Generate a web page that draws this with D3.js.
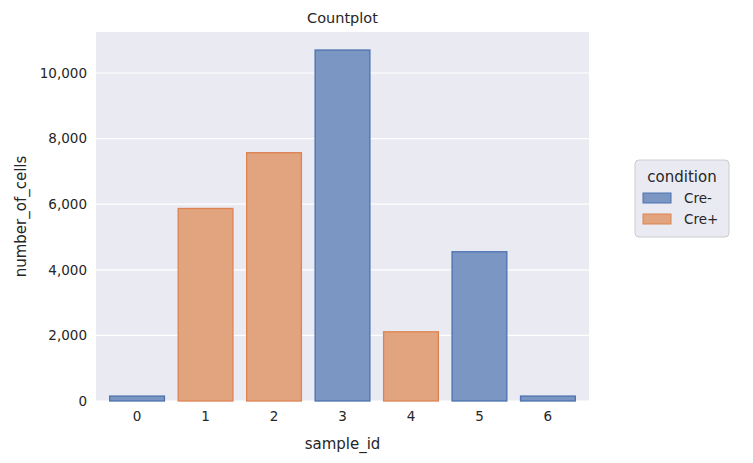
<!DOCTYPE html>
<html><head><meta charset="utf-8">
<script src="https://cdn.jsdelivr.net/npm/d3@7"></script>
<style>body{margin:0;background:#fff;font-family:"DejaVu Sans",sans-serif;}</style>
</head><body><svg id="chart" width="753" height="463"></svg>
<script>
const sampleIds = ["0", "1", "2", "3", "4", "5", "6"];
const cellCounts = [150, 5870, 7570, 10700, 2110, 4550, 150];
const conditions = ["Cre-", "Cre+", "Cre+", "Cre-", "Cre+", "Cre-", "Cre-"];
const yTicks = [0, 2000, 4000, 6000, 8000, 10000];
const legendItems = ["Cre-", "Cre+"];

const fillColor = { "Cre-": "#7b96c3", "Cre+": "#e2a37f" };
const edgeColor = { "Cre-": "#4c72b0", "Cre+": "#dd8452" };

const svg = d3.select("#chart");
const m = { left: 96, right: 589, top: 32, bottom: 401 };

const x = d3.scaleBand().domain(sampleIds).range([m.left, m.right]).padding(0.2);
const y = d3.scaleLinear().domain([0, 11250]).range([m.bottom, m.top]);

svg.append("rect").attr("x", m.left).attr("y", m.top)
    .attr("width", m.right - m.left).attr("height", m.bottom - m.top).attr("fill", "#eaeaf2");

// gridlines
svg.selectAll(".grid").data(yTicks).enter().append("line")
    .attr("x1", m.left).attr("x2", m.right)
    .attr("y1", d => y(d)).attr("y2", d => y(d))
    .attr("stroke", "#fff").attr("stroke-width", 1.2);

const data = sampleIds.map((s, i) => ({ s, v: cellCounts[i], c: conditions[i] }));
svg.selectAll(".bar").data(data).enter().append("rect")
    .attr("x", d => x(d.s)).attr("width", x.bandwidth())
    .attr("y", d => y(d.v)).attr("height", d => y(0) - y(d.v))
    .attr("fill", d => fillColor[d.c]).attr("stroke", d => edgeColor[d.c]).attr("stroke-width", 1.3);

const yAxis = svg.append("g").attr("transform", `translate(${m.left},0)`)
    .call(d3.axisLeft(y).tickValues(yTicks).tickSize(0).tickPadding(9));
const xAxis = svg.append("g").attr("transform", `translate(0,${m.bottom})`)
    .call(d3.axisBottom(x).tickSize(0).tickPadding(10));
[xAxis, yAxis].forEach(a => {
    a.select(".domain").remove();
    a.selectAll("text").attr("font-size", 13.5).attr("fill", "#262626").attr("font-family", "DejaVu Sans");
});

svg.append("text").attr("x", (m.left + m.right) / 2).attr("y", 23).attr("text-anchor", "middle")
    .attr("font-size", 14.5).attr("fill", "#262626").text("Countplot");
svg.append("text").attr("x", (m.left + m.right) / 2).attr("y", 449).attr("text-anchor", "middle")
    .attr("font-size", 15).attr("fill", "#262626").text("sample_id");
svg.append("text").attr("transform", `translate(26,${(m.top + m.bottom) / 2}) rotate(-90)`)
    .attr("text-anchor", "middle").attr("font-size", 15).attr("fill", "#262626").text("number_of_cells");

// legend
const lg = svg.append("g").attr("transform", "translate(635,160)");
lg.append("rect").attr("width", 94).attr("height", 77).attr("rx", 4)
    .attr("fill", "#eaeaf2").attr("stroke", "#ccc");
lg.append("text").attr("x", 47).attr("y", 22).attr("text-anchor", "middle")
    .attr("font-size", 15).attr("fill", "#262626").text("condition");
legendItems.forEach((k, i) => {
    lg.append("rect").attr("x", 8).attr("y", 33 + i * 21).attr("width", 28).attr("height", 10)
        .attr("fill", fillColor[k]).attr("stroke", edgeColor[k]);
    lg.append("text").attr("x", 49).attr("y", 43 + i * 21).attr("font-size", 13.5)
        .attr("fill", "#262626").text(k);
});
</script></body></html>
